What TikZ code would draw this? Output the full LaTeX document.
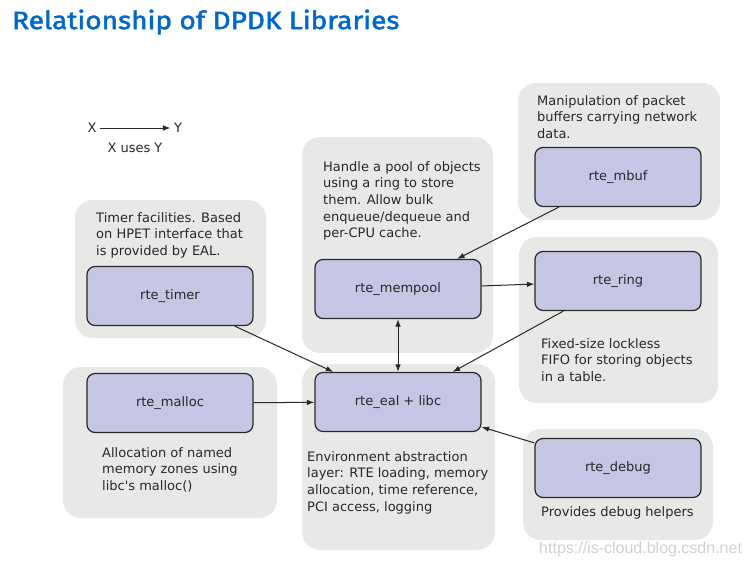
\documentclass[tikz,border=0pt]{standalone}
\usepackage{fontspec}
\setmainfont{DejaVu Sans}
\newfontfamily\titlefont[FakeStretch=1.12,FakeBold=2]{Fira Sans}
\newfontfamily\wmfont{Liberation Sans}
\usetikzlibrary{arrows.meta}

\definecolor{titleblue}{RGB}{0,104,200}
\definecolor{groupgray}{RGB}{232,233,231}
\definecolor{libblue}{RGB}{197,198,228}
\definecolor{inkgray}{RGB}{40,40,40}

\begin{document}
\begin{tikzpicture}[x=1pt, y=-1pt,
  every node/.style={font=\fontsize{13}{16.7}\selectfont, text=inkgray},
  group/.style={fill=groupgray, rounded corners=18pt},
  lib/.style={draw=inkgray, fill=libblue, line width=1.2pt, rounded corners=8pt,
    minimum width=166pt, minimum height=59pt},
  note/.style={anchor=north west, align=left, inner sep=0pt},
  dep/.style={-{Latex[length=7.5pt,width=5.5pt]}, draw=inkgray, line width=1pt}]

\useasboundingbox[fill=white] (0,0) rectangle (754,567);

\node[font=\titlefont\fontsize{25}{30}\selectfont, text=titleblue, anchor=west, inner sep=0pt] (title) at (12,22) {Relationship of DPDK Libraries};

% Legenda
\node (x) at (92,128) {X};
\node (y) at (178,128) {Y};
\node (xusesy) at (135,148) {X uses Y};
\draw[dep] (x) -- (y);

% Zone grigie
\fill[group] (75,200) rectangle (266,338);
\fill[group] (63,367) rectangle (277,518);
\fill[group] (302,137) rectangle (493,353);
\fill[group] (302,364) rectangle (495,550);
\fill[group] (518,83) rectangle (720,220);
\fill[group] (519,237) rectangle (718,403);
\fill[group] (523,429) rectangle (713,540);

% Librerie
\node[lib] (timer) at (170,296) {rte\_timer};
\node[lib] (malloc) at (170,403) {rte\_malloc};
\node[lib] (mempool) at (398,289) {rte\_mempool};
\node[lib] (eal) at (398,402) {rte\_eal + libc};
\node[lib] (mbuf) at (618,177) {rte\_mbuf};
\node[lib] (ring) at (618,281) {rte\_ring};
\node[lib] (debug) at (618,468) {rte\_debug};

% Descrizioni
\node[note] (timernote) at (96,212) {Timer facilities. Based\\on HPET interface that\\is provided by EAL.};
\node[note] (mallocnote) at (102,447) {Allocation of named\\memory zones using\\libc\textquotesingle s malloc()};
\node[note] (mempoolnote) at (323,161) {Handle a pool of objects\\using a ring to store\\them. Allow bulk\\enqueue/dequeue and\\per-CPU cache.};
\node[note] (ealnote) at (307,451) {Environment abstraction\\layer: RTE loading, memory\\allocation, time reference,\\PCI access, logging};
\node[note] (mbufnote) at (537,95) {Manipulation of packet\\buffers carrying network\\data.};
\node[note] (ringnote) at (541,338) {Fixed-size lockless\\FIFO for storing objects\\in a table.};
\node[note] (debugnote) at (541,506) {Provides debug helpers};

% Archi
\draw[dep] (timer) -- (eal);
\draw[dep] (malloc) -- (eal);
\draw[dep, {Latex[length=7.5pt,width=5.5pt]}-{Latex[length=7.5pt,width=5.5pt]}] (eal) -- (mempool);
\draw[dep] (mbuf) -- (mempool);
\draw[dep] (mempool) -- (ring);
\draw[dep] (ring) -- (eal);
\draw[dep] (debug) -- (eal);

\node[font=\wmfont\fontsize{16}{18}\selectfont, text=black!18, anchor=west, inner sep=0pt] (wm) at (539,549) {https://is-cloud.blog.csdn.net};

\end{tikzpicture}
\end{document}
